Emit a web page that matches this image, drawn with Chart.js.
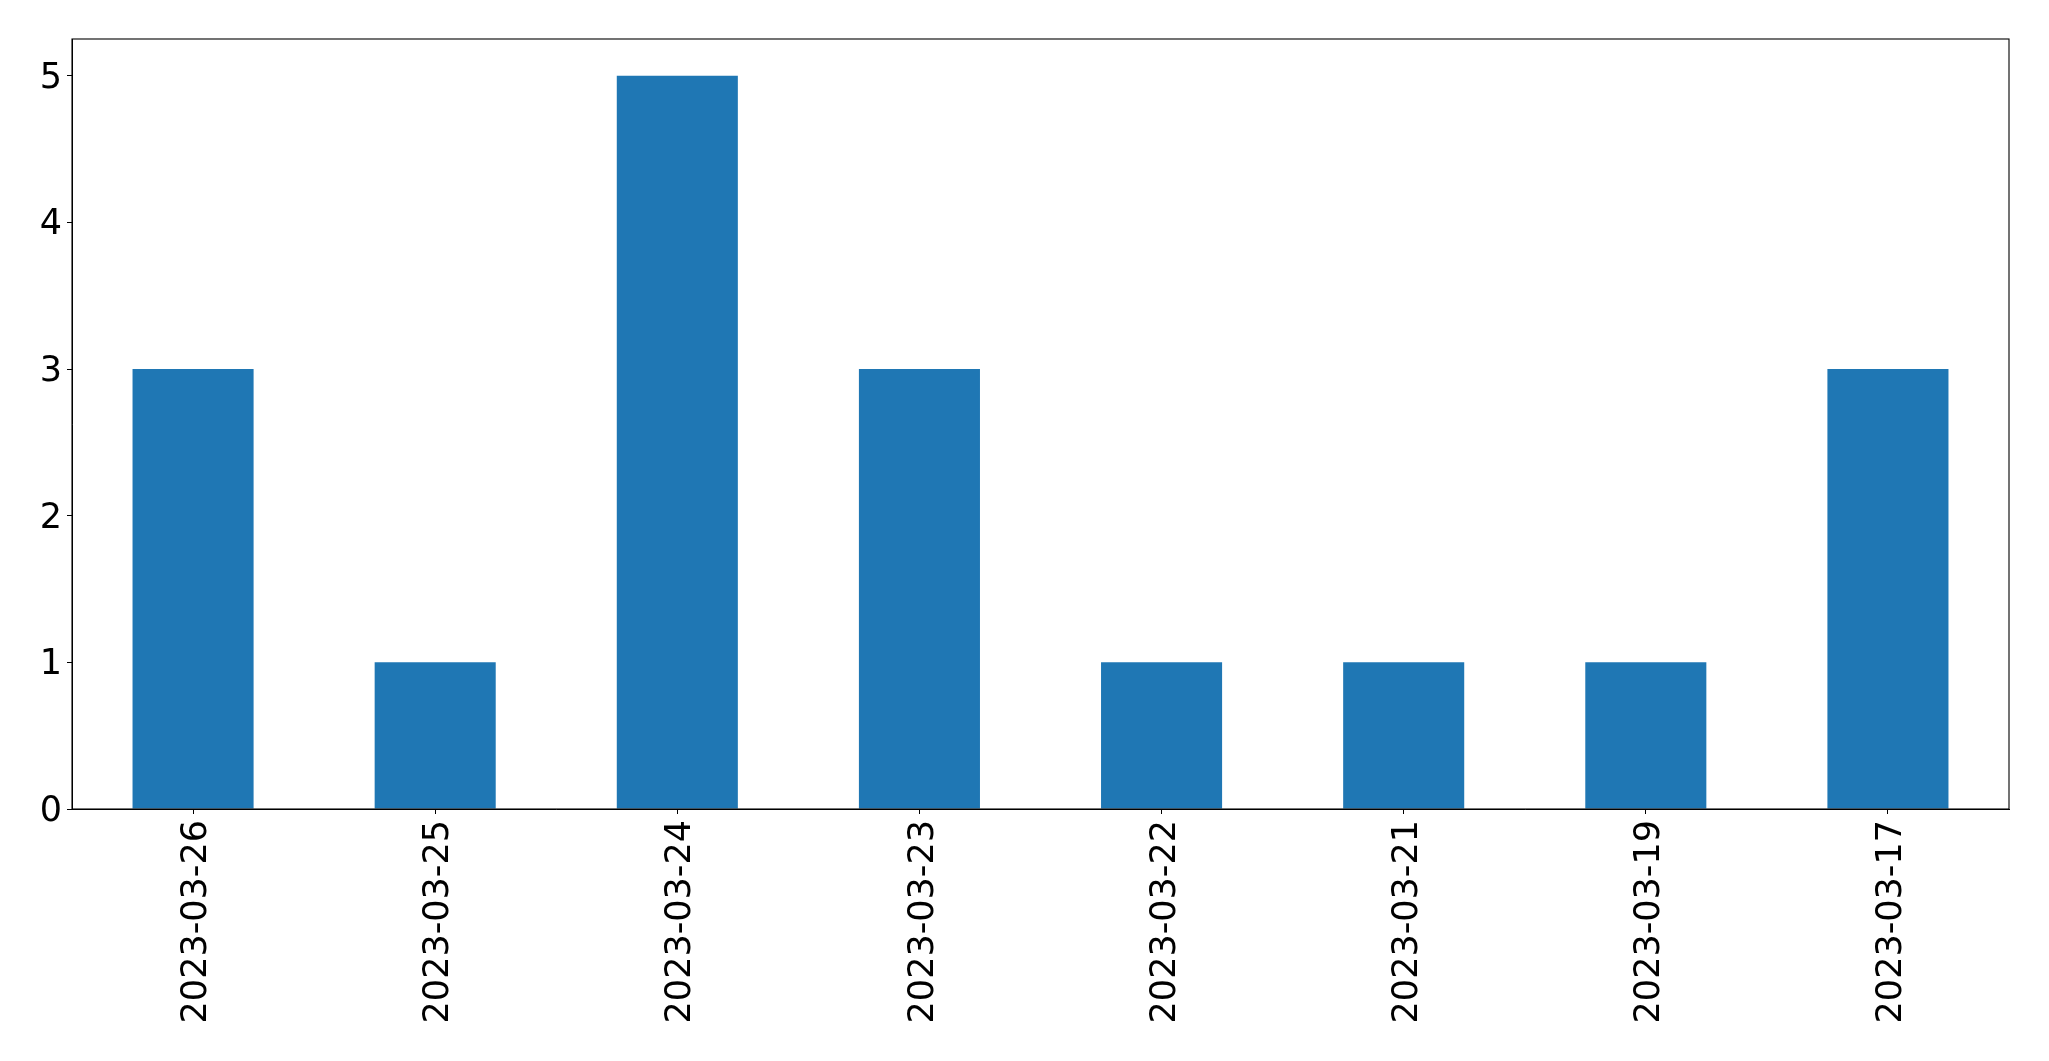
<!DOCTYPE html>
<html>
<head>
<meta charset="utf-8">
<script src="https://cdn.jsdelivr.net/npm/chart.js@4"></script>
<style>
  html, body { margin: 0; padding: 0; background: #fff; }
  canvas { display: block; }
</style>
</head>
<body>
<canvas id="barChart" width="2049" height="1061"></canvas>
<script>
// --- datos del gráfico ---
const dates = ['2023-03-26', '2023-03-25', '2023-03-24', '2023-03-23', '2023-03-22', '2023-03-21', '2023-03-19', '2023-03-17'];
const counts = [3, 1, 5, 3, 1, 1, 1, 3];
const yTicks = [0, 1, 2, 3, 4, 5];

// marco negro alrededor del área del gráfico (spines de matplotlib)
const frame = {
    id: 'frame',
    afterDraw(chart) {
        const { ctx, chartArea: a } = chart;
        ctx.save();
        ctx.strokeStyle = '#000';
        ctx.lineWidth = 1.1;
        ctx.strokeRect(a.left, a.top, a.right - a.left, a.bottom - a.top);
        ctx.restore();
    }
};

const font = { family: 'DejaVu Sans', size: 35 };

new Chart(document.getElementById('barChart').getContext('2d'), {
    type: 'bar',
    data: {
        labels: dates,
        datasets: [{
            data: counts,
            backgroundColor: '#1f77b4',
            barPercentage: 0.5,
            categoryPercentage: 1
        }]
    },
    options: {
        responsive: false,
        animation: false,
        layout: { padding: { left: 0, top: 39, right: 40, bottom: 0 } },
        plugins: { legend: { display: false }, tooltip: { enabled: false } },
        scales: {
            x: {
                offset: true,
                grid: { display: true, drawOnChartArea: false, tickLength: 5, color: '#000', offset: false },
                border: { display: true, color: '#000' },
                ticks: { font, color: '#000', minRotation: 90, maxRotation: 90, padding: 6, labelOffset: 4, autoSkip: false },
                afterFit(scale) { scale.height = 252; }
            },
            y: {
                min: 0,
                max: 5.25,
                afterBuildTicks(scale) { scale.ticks = yTicks.map(v => ({ value: v })); },
                grid: { display: true, drawOnChartArea: false, tickLength: 5, color: '#000' },
                border: { display: true, color: '#000' },
                ticks: { font, color: '#000', padding: 5, labelOffset: 3 },
                afterFit(scale) { scale.width = 72; }
            }
        }
    },
    plugins: [frame]
});
</script>
</body>
</html>
